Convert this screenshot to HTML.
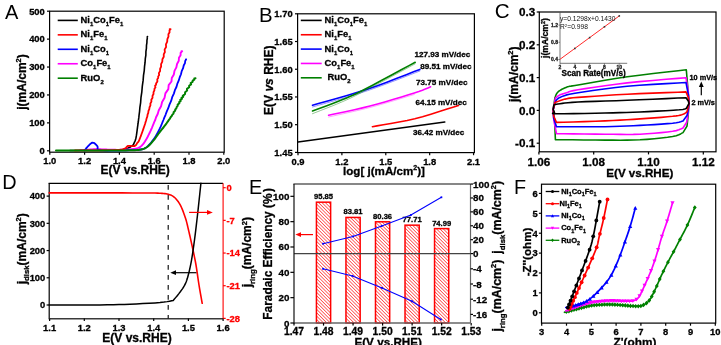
<!DOCTYPE html>
<html><head><meta charset="utf-8"><style>
html,body{margin:0;padding:0;background:#fff;overflow:hidden;}
svg{display:block;font-family:"Liberation Sans", sans-serif;-webkit-font-smoothing:antialiased;will-change:transform;}
</style></head><body>
<svg width="721" height="345" viewBox="0 0 721 345">
<rect width="721" height="345" fill="#fff"/>
<rect x="49.6" y="11.2" width="174.6" height="141" fill="none" stroke="#000" stroke-width="1.2"/>
<line x1="47" y1="150.8" x2="49.6" y2="150.8" stroke="#000" stroke-width="1.2" />
<text x="44.8" y="154.1" font-size="9.4" text-anchor="end" font-weight="bold" fill="#000" stroke="#000" stroke-width="0.3" >0</text>
<line x1="47" y1="122.88" x2="49.6" y2="122.88" stroke="#000" stroke-width="1.2" />
<text x="44.8" y="126.18" font-size="9.4" text-anchor="end" font-weight="bold" fill="#000" stroke="#000" stroke-width="0.3" >100</text>
<line x1="47" y1="94.96" x2="49.6" y2="94.96" stroke="#000" stroke-width="1.2" />
<text x="44.8" y="98.26" font-size="9.4" text-anchor="end" font-weight="bold" fill="#000" stroke="#000" stroke-width="0.3" >200</text>
<line x1="47" y1="67.04" x2="49.6" y2="67.04" stroke="#000" stroke-width="1.2" />
<text x="44.8" y="70.34" font-size="9.4" text-anchor="end" font-weight="bold" fill="#000" stroke="#000" stroke-width="0.3" >300</text>
<line x1="47" y1="39.12" x2="49.6" y2="39.12" stroke="#000" stroke-width="1.2" />
<text x="44.8" y="42.42" font-size="9.4" text-anchor="end" font-weight="bold" fill="#000" stroke="#000" stroke-width="0.3" >400</text>
<line x1="47" y1="11.2" x2="49.6" y2="11.2" stroke="#000" stroke-width="1.2" />
<text x="44.8" y="14.5" font-size="9.4" text-anchor="end" font-weight="bold" fill="#000" stroke="#000" stroke-width="0.3" >500</text>
<line x1="49.8" y1="152.2" x2="49.8" y2="154.8" stroke="#000" stroke-width="1.2" />
<text x="49.8" y="164" font-size="9.4" text-anchor="middle" font-weight="bold" fill="#000" stroke="#000" stroke-width="0.3" >1.0</text>
<line x1="84.6" y1="152.2" x2="84.6" y2="154.8" stroke="#000" stroke-width="1.2" />
<text x="84.6" y="164" font-size="9.4" text-anchor="middle" font-weight="bold" fill="#000" stroke="#000" stroke-width="0.3" >1.2</text>
<line x1="119.4" y1="152.2" x2="119.4" y2="154.8" stroke="#000" stroke-width="1.2" />
<text x="119.4" y="164" font-size="9.4" text-anchor="middle" font-weight="bold" fill="#000" stroke="#000" stroke-width="0.3" >1.4</text>
<line x1="154.2" y1="152.2" x2="154.2" y2="154.8" stroke="#000" stroke-width="1.2" />
<text x="154.2" y="164" font-size="9.4" text-anchor="middle" font-weight="bold" fill="#000" stroke="#000" stroke-width="0.3" >1.6</text>
<line x1="189" y1="152.2" x2="189" y2="154.8" stroke="#000" stroke-width="1.2" />
<text x="189" y="164" font-size="9.4" text-anchor="middle" font-weight="bold" fill="#000" stroke="#000" stroke-width="0.3" >1.8</text>
<line x1="223.8" y1="152.2" x2="223.8" y2="154.8" stroke="#000" stroke-width="1.2" />
<text x="223.8" y="164" font-size="9.4" text-anchor="middle" font-weight="bold" fill="#000" stroke="#000" stroke-width="0.3" >2.0</text>
<text x="135.2" y="173.9" font-size="12" text-anchor="middle" font-weight="bold" fill="#000" stroke="#000" stroke-width="0.3" >E(V vs.RHE)</text>
<text x="25.9" y="82" font-size="12" text-anchor="middle" font-weight="bold" fill="#000" stroke="#000" stroke-width="0.3" transform="rotate(-90 25.9 82)" ><tspan>j(mA/cm</tspan><tspan dy="-4.5" font-size="7.5">2</tspan><tspan dy="4.5">)</tspan></text>
<text x="4.9" y="18.9" font-size="20" text-anchor="start" font-weight="normal" fill="#000" >A</text>
<line x1="57.7" y1="20.4" x2="77.8" y2="20.4" stroke="#000000" stroke-width="1.6" />
<text x="80.6" y="23" font-size="9.4" text-anchor="start" font-weight="bold" fill="#000" stroke="#000" stroke-width="0.3" ><tspan>Ni</tspan><tspan dy="3" font-size="5.9">1</tspan><tspan dy="-3">Co</tspan><tspan dy="3" font-size="5.9">1</tspan><tspan dy="-3">Fe</tspan><tspan dy="3" font-size="5.9">1</tspan></text>
<line x1="57.7" y1="34.85" x2="77.8" y2="34.85" stroke="#ff0000" stroke-width="1.6" />
<text x="80.6" y="37.45" font-size="9.4" text-anchor="start" font-weight="bold" fill="#000" stroke="#000" stroke-width="0.3" ><tspan>Ni</tspan><tspan dy="3" font-size="5.9">1</tspan><tspan dy="-3">Fe</tspan><tspan dy="3" font-size="5.9">1</tspan></text>
<line x1="57.7" y1="49.3" x2="77.8" y2="49.3" stroke="#0000ff" stroke-width="1.6" />
<text x="80.6" y="51.9" font-size="9.4" text-anchor="start" font-weight="bold" fill="#000" stroke="#000" stroke-width="0.3" ><tspan>Ni</tspan><tspan dy="3" font-size="5.9">1</tspan><tspan dy="-3">Co</tspan><tspan dy="3" font-size="5.9">1</tspan></text>
<line x1="57.7" y1="63.75" x2="77.8" y2="63.75" stroke="#ff00ff" stroke-width="1.6" />
<text x="80.6" y="66.35" font-size="9.4" text-anchor="start" font-weight="bold" fill="#000" stroke="#000" stroke-width="0.3" ><tspan>Co</tspan><tspan dy="3" font-size="5.9">1</tspan><tspan dy="-3">Fe</tspan><tspan dy="3" font-size="5.9">1</tspan></text>
<line x1="57.7" y1="78.2" x2="77.8" y2="78.2" stroke="#008000" stroke-width="1.6" />
<text x="80.6" y="80.8" font-size="9.4" text-anchor="start" font-weight="bold" fill="#000" stroke="#000" stroke-width="0.3" ><tspan>RuO</tspan><tspan dy="3" font-size="5.9">2</tspan></text>
<polyline points="70,150.5 72.83,150.49 76.65,150.48 81.24,150.47 86.36,150.46 91.77,150.45 97.24,150.43 102.54,150.39 107.42,150.35 111.65,150.28 115,150.2 117.54,150.1 119.54,149.99 121.1,149.88 122.29,149.74 123.94,149.44 125.15,149.06 126.6,148.6 128.3,147.99 129.8,147.25 131.09,146.46 132.16,145.72 133.31,144.87 133.74,143.94 134.23,142.69 134.85,141.42 135.29,140.34 135.71,138.99 136.08,137.3 136.44,135.19 136.61,134.02 136.78,132.8 136.95,131.55 137.11,130.28 137.28,129.02 137.44,127.79 137.6,126.6 137.85,124.87 138.03,123.74 138.21,122.31 138.38,121.21 138.53,119.69 138.82,117.66 139.08,115 139.54,111.55 139.9,107.33 140.63,102.52 141.01,97.28 141.83,91.78 142.31,86.19 143.09,80.68 143.51,75.42 144.25,70.57 144.55,66.3 145.07,62.43 145.3,58.67 145.87,55.06 145.92,51.63 146.41,48.41 146.48,45.43 146.91,42.73 146.95,40.34 147.3,38.28 147.35,36.6 147.54,36.6" fill="none" stroke="#000000" stroke-width="1.6" stroke-linejoin="round" stroke-linecap="round" />
<polyline points="80,150.3 82.12,150.13 83.56,150.01 85.16,149.87 86.88,149.73 88.64,149.59 90.4,149.46 92.08,149.35 93.63,149.26 95,149.2 96.18,149.17 98.21,149.19 100,149.26 101.79,149.37 103.82,149.46 105,149.5 106.29,149.54 107.67,149.58 109.1,149.64 110.6,149.69 112.13,149.74 113.7,149.79 115.28,149.82 116.86,149.84 118.44,149.83 120,149.8 121.6,149.75 123.29,149.68 125.03,149.6 126.78,149.51 128.53,149.4 130.23,149.27 131.85,149.13 133.36,148.97 134.72,148.8 135.9,148.6 137.71,148.18 138.96,147.73 140.28,146.88 141.12,146.14 142.11,145.21 143.09,144.13 144.02,142.89 144.93,141.54 145.84,140.07 146.77,138.5 147.7,136.77 148.63,134.93 149.55,133.01 150.46,131.07 151.28,129.25 151.83,128.03 152.31,126.88 153.01,125.15 153.54,123.85 154.19,122.16 155.22,120 156.06,117.26 157.71,113.99 158.78,110.28 161.07,106.25 162.11,102.01 164.59,97.67 165.4,93.34 168.33,89.13 168.68,85.15 171.45,81.5 171.78,78 173.86,74.43 174.5,70.85 176.35,67.34 177.04,63.94 178.78,60.74 178.95,57.8 180.59,55.19 180.62,52.97 182.18,51.2 181.44,51.2" fill="none" stroke="#ff00ff" stroke-width="1.9" stroke-linejoin="round" stroke-linecap="round" />
<polyline points="84.5,150.6 85.25,149.61 85.95,148.68 86.74,147.68 87.58,146.73 88.43,145.87 89.35,144.91 90.32,143.95 91.33,143.15 92.32,142.67 93.77,142.86 94.77,143.53 95.75,144.44 96.67,145.42 97.5,146.3 97.69,147.61 97.47,148.98 98.23,149.76 100.5,150.3 102.46,150.46 105.01,150.55 108,150.59 111.3,150.58 114.78,150.54 118.3,150.48 121.71,150.4 124.89,150.32 127.7,150.25 130,150.2 131.84,150.16 133.39,150.12 134.69,150.08 135.79,150.03 137.55,149.91 139,149.74 140.5,149.5 141.94,149.26 143.11,149.02 144.63,148.47 145.7,147.84 146.95,146.88 148.32,145.62 149.75,144.13 151.18,142.49 151.87,141.63 153.2,139.9 154.45,138.09 155.06,137.14 155.67,136.16 156.26,135.16 156.83,134.15 157.4,133.13 157.95,132.12 158.48,131.1 159,130.1 159.83,128.47 160.45,127.18 161.1,125.7 162.01,123.49 162.61,121.94 163.42,120 164.32,117.6 165.55,114.78 166.71,111.61 168.24,108.19 169.47,104.59 171.13,100.91 172.19,97.22 173.87,93.62 174.89,90.18 176.44,87 177.27,83.9 178.68,80.69 179.67,77.45 180.98,74.25 181.71,71.14 183.08,68.19 183.7,65.48 184.97,63.07 185.2,61.02 186.14,59.4 185.86,59.4" fill="none" stroke="#0000ff" stroke-width="1.8" stroke-linejoin="round" stroke-linecap="round" />
<polyline points="75,150.5 77.52,150.47 80.92,150.45 85.01,150.42 89.57,150.38 94.39,150.34 99.25,150.29 103.96,150.23 108.29,150.17 112.04,150.09 115,150 117.23,149.9 119,149.8 120.38,149.68 122.22,149.43 123.32,149.14 124.8,148.6 126.05,147.83 126.75,146.63 127.7,146 128.91,145.88 130.42,145.97 132.02,146.11 133.52,146.16 134.7,146 135.82,145.27 136.51,144.21 137.08,143.12 137.82,142.33 138.67,141.33 139.3,139.9 139.73,138.83 140.23,137.54 140.78,136.08 141.38,134.48 142.01,132.76 142.65,130.97 143.29,129.13 143.92,127.29 144.53,125.46 145.11,123.7 145.6,121.95 146.2,120.17 146.6,118.36 147.32,116.53 147.55,114.68 148.27,112.81 148.48,110.95 149.3,109.09 149.54,107.24 150.44,105.4 150.37,103.55 151.42,101.66 151.32,99.74 152.54,97.82 152.49,95.92 153.5,94.04 153.51,92.22 154.38,90.45 154.46,88.78 155.49,87.2 155.01,85.79 156.09,84.55 156.07,83.44 157.4,81.4 157.24,79.26 158.24,78.04 158.12,76.63 159.16,75 158.85,73.14 160.12,71.09 160.07,68.89 161.11,66.57 161.06,64.17 162.29,61.71 162.41,59.23 163.78,56.77 163.73,54.34 164.91,52 164.61,49.6 166.09,47.05 165.94,44.4 167.2,41.73 167.35,39.11 168.47,36.61 168.39,34.28 169.59,32.21 169.46,30.46 170.6,29.1 169.65,29.1" fill="none" stroke="#ff0000" stroke-width="1.8" stroke-linejoin="round" stroke-linecap="round" />
<polyline points="56,150.6 58.68,150.6 62.21,150.6 66.41,150.61 71.1,150.61 76.12,150.62 81.3,150.62 86.44,150.62 91.39,150.62 95.97,150.61 100,150.6 103.65,150.58 107.21,150.57 110.64,150.54 113.94,150.52 117.09,150.49 120.08,150.46 122.87,150.43 125.47,150.39 127.85,150.35 130,150.3 131.86,150.26 133.4,150.22 134.69,150.19 136.69,150.11 138.22,149.98 139.68,149.76 141.34,149.42 142.88,149.04 144.26,148.58 145.55,148 146.84,147.25 148.17,146.28 149.51,145.06 150.82,143.66 152.09,142.18 153.32,140.71 154.46,139.31 155.5,137.92 156.49,136.53 157.46,135.13 158.47,133.71 159.55,132.29 160.68,130.88 161.84,129.46 163.02,128 164.2,126.49 165.41,124.87 166.72,123.09 167.29,122.17 168.08,121.24 168.55,120.32 169.93,118.56 170.78,117 171.82,115.79 172.2,114.87 173.52,113.5 173.61,112.29 175.21,110.57 175.24,109.52 176.36,108.37 176.61,107.15 177.71,105.88 177.68,104.6 179.36,103.32 179.17,102.08 180.72,100.9 180.23,99.8 181.96,98.77 181.46,97.77 183.25,96.81 182.79,95.86 185.03,94.04 185.13,92.3 187.11,90.6 186.94,88.93 189.2,87.31 189.08,85.76 191.13,84.32 190.6,83 192.62,81.78 192.68,80.65 194.28,79.64 194.3,78.47 195.52,78.2" fill="none" stroke="#008000" stroke-width="2.0" stroke-linejoin="round" stroke-linecap="round" />
<rect x="297.6" y="13.8" width="176.8" height="138.8" fill="none" stroke="#000" stroke-width="1.2"/>
<line x1="295" y1="152.4" x2="297.6" y2="152.4" stroke="#000" stroke-width="1.2" />
<text x="292.6" y="155.7" font-size="9.4" text-anchor="end" font-weight="bold" fill="#000" stroke="#000" stroke-width="0.3" >1.45</text>
<line x1="295" y1="124.68" x2="297.6" y2="124.68" stroke="#000" stroke-width="1.2" />
<text x="292.6" y="127.98" font-size="9.4" text-anchor="end" font-weight="bold" fill="#000" stroke="#000" stroke-width="0.3" >1.50</text>
<line x1="295" y1="96.96" x2="297.6" y2="96.96" stroke="#000" stroke-width="1.2" />
<text x="292.6" y="100.26" font-size="9.4" text-anchor="end" font-weight="bold" fill="#000" stroke="#000" stroke-width="0.3" >1.55</text>
<line x1="295" y1="69.24" x2="297.6" y2="69.24" stroke="#000" stroke-width="1.2" />
<text x="292.6" y="72.54" font-size="9.4" text-anchor="end" font-weight="bold" fill="#000" stroke="#000" stroke-width="0.3" >1.60</text>
<line x1="295" y1="41.52" x2="297.6" y2="41.52" stroke="#000" stroke-width="1.2" />
<text x="292.6" y="44.82" font-size="9.4" text-anchor="end" font-weight="bold" fill="#000" stroke="#000" stroke-width="0.3" >1.65</text>
<line x1="295" y1="13.8" x2="297.6" y2="13.8" stroke="#000" stroke-width="1.2" />
<text x="292.6" y="17.1" font-size="9.4" text-anchor="end" font-weight="bold" fill="#000" stroke="#000" stroke-width="0.3" >1.70</text>
<line x1="298" y1="152.6" x2="298" y2="155.2" stroke="#000" stroke-width="1.2" />
<text x="298" y="165.3" font-size="9.4" text-anchor="middle" font-weight="bold" fill="#000" stroke="#000" stroke-width="0.3" >0.9</text>
<line x1="341.89" y1="152.6" x2="341.89" y2="155.2" stroke="#000" stroke-width="1.2" />
<text x="341.89" y="165.3" font-size="9.4" text-anchor="middle" font-weight="bold" fill="#000" stroke="#000" stroke-width="0.3" >1.2</text>
<line x1="385.78" y1="152.6" x2="385.78" y2="155.2" stroke="#000" stroke-width="1.2" />
<text x="385.78" y="165.3" font-size="9.4" text-anchor="middle" font-weight="bold" fill="#000" stroke="#000" stroke-width="0.3" >1.5</text>
<line x1="429.67" y1="152.6" x2="429.67" y2="155.2" stroke="#000" stroke-width="1.2" />
<text x="429.67" y="165.3" font-size="9.4" text-anchor="middle" font-weight="bold" fill="#000" stroke="#000" stroke-width="0.3" >1.8</text>
<line x1="473.56" y1="152.6" x2="473.56" y2="155.2" stroke="#000" stroke-width="1.2" />
<text x="473.56" y="165.3" font-size="9.4" text-anchor="middle" font-weight="bold" fill="#000" stroke="#000" stroke-width="0.3" >2.1</text>
<text x="384" y="174.5" font-size="11.6" text-anchor="middle" font-weight="bold" fill="#000" stroke="#000" stroke-width="0.3" ><tspan>log[ j(mA/cm</tspan><tspan dy="-4.3" font-size="7">2</tspan><tspan dy="4.3">)]</tspan></text>
<text x="273.2" y="80.2" font-size="12" text-anchor="middle" font-weight="bold" fill="#000" stroke="#000" stroke-width="0.3" transform="rotate(-90 273.2 80.2)" ><tspan>E(V </tspan><tspan font-style="italic">vs</tspan><tspan> RHE)</tspan></text>
<text x="259" y="22.4" font-size="20.4" text-anchor="start" font-weight="normal" fill="#000" >B</text>
<line x1="300.8" y1="20.4" x2="321.7" y2="20.4" stroke="#000000" stroke-width="1.6" />
<text x="324.6" y="23" font-size="9.4" text-anchor="start" font-weight="bold" fill="#000" stroke="#000" stroke-width="0.3" ><tspan>Ni</tspan><tspan dy="3" font-size="5.9">1</tspan><tspan dy="-3">Co</tspan><tspan dy="3" font-size="5.9">1</tspan><tspan dy="-3">Fe</tspan><tspan dy="3" font-size="5.9">1</tspan></text>
<line x1="300.8" y1="34.75" x2="321.7" y2="34.75" stroke="#ff0000" stroke-width="1.6" />
<text x="324.6" y="37.35" font-size="9.4" text-anchor="start" font-weight="bold" fill="#000" stroke="#000" stroke-width="0.3" ><tspan>Ni</tspan><tspan dy="3" font-size="5.9">1</tspan><tspan dy="-3">Fe</tspan><tspan dy="3" font-size="5.9">1</tspan></text>
<line x1="300.8" y1="49.1" x2="321.7" y2="49.1" stroke="#0000ff" stroke-width="1.6" />
<text x="324.6" y="51.7" font-size="9.4" text-anchor="start" font-weight="bold" fill="#000" stroke="#000" stroke-width="0.3" ><tspan>Ni</tspan><tspan dy="3" font-size="5.9">1</tspan><tspan dy="-3">Co</tspan><tspan dy="3" font-size="5.9">1</tspan></text>
<line x1="300.8" y1="63.45" x2="321.7" y2="63.45" stroke="#ff00ff" stroke-width="1.6" />
<text x="324.6" y="66.05" font-size="9.4" text-anchor="start" font-weight="bold" fill="#000" stroke="#000" stroke-width="0.3" ><tspan>Co</tspan><tspan dy="3" font-size="5.9">1</tspan><tspan dy="-3">Fe</tspan><tspan dy="3" font-size="5.9">1</tspan></text>
<line x1="300.8" y1="77.8" x2="321.7" y2="77.8" stroke="#008000" stroke-width="1.6" />
<text x="327.4" y="80.4" font-size="9.4" text-anchor="start" font-weight="bold" fill="#000" stroke="#000" stroke-width="0.3" ><tspan>RuO</tspan><tspan dy="3" font-size="5.9">2</tspan></text>
<polyline points="298,141.9 444.8,122" fill="none" stroke="#000000" stroke-width="1.5" stroke-linejoin="round" stroke-linecap="round" />
<polyline points="372.4,126.7 377,125.89 383.34,124.82 390.87,123.52 399,122.05 407.17,120.43 414.8,118.7 422.51,116.65 430.89,114.2 439.3,111.6 447.12,109.11 453.73,107 458.5,105.5" fill="none" stroke="#ff0000" stroke-width="1.6" stroke-linejoin="round" stroke-linecap="round" />
<polyline points="328.6,115.3 333.07,114.33 339.23,113.03 346.53,111.46 354.45,109.72 362.45,107.87 370,106 377.54,103.97 385.59,101.69 393.72,99.31 401.5,96.97 408.5,94.82 414.3,93 418.83,91.5 422.41,90.2 425.22,89.09 427.41,88.16 429.15,87.4 430.6,86.8" fill="none" stroke="#ff00ff" stroke-width="1.6" stroke-linejoin="round" stroke-linecap="round" />
<polyline points="328.6,117 333.07,116.01 339.23,114.67 346.53,113.06 354.45,111.28 362.45,109.4 370,107.5 377.73,105.39 386.19,102.94 394.74,100.41 402.71,98 409.45,95.95 414.3,94.5" fill="none" stroke="#ff00ff" stroke-width="0.6" stroke-linejoin="round" stroke-linecap="round" opacity="0.6"/>
<polyline points="312.5,105.2 318.47,103.5 326.76,101.19 336.56,98.44 347.09,95.41 357.57,92.27 367.2,89.2 376.71,85.89 386.87,82.15 396.97,78.3 406.31,74.67 414.19,71.6 419.9,69.4" fill="none" stroke="#0000ff" stroke-width="1.6" stroke-linejoin="round" stroke-linecap="round" />
<polyline points="312.5,107 318.47,105.28 326.76,102.93 336.56,100.14 347.09,97.07 357.57,93.9 367.2,90.8 376.71,87.48 386.87,83.73 396.97,79.89 406.31,76.27 414.19,73.2 419.9,71" fill="none" stroke="#0000ff" stroke-width="0.7" stroke-linejoin="round" stroke-linecap="round" opacity="0.6"/>
<polyline points="312.5,110.9 315.87,109.66 320.61,107.94 326.19,105.91 332.08,103.73 337.76,101.57 342.7,99.6 346.59,97.98 349.79,96.61 352.77,95.26 356.03,93.7 360.04,91.69 365.3,89 372.61,85.17 381.76,80.3 391.66,74.99 401.25,69.82 409.46,65.39 415.2,62.3" fill="none" stroke="#008000" stroke-width="1.6" stroke-linejoin="round" stroke-linecap="round" />
<polyline points="312.5,113.7 315.87,112.37 320.61,110.52 326.19,108.34 332.08,106 337.76,103.69 342.7,101.6 346.59,99.89 349.79,98.44 352.77,97.02 356.03,95.4 360.04,93.33 365.3,90.6 372.61,86.74 381.76,81.84 391.66,76.51 401.25,71.33 409.46,66.9 415.2,63.8" fill="none" stroke="#008000" stroke-width="0.7" stroke-linejoin="round" stroke-linecap="round" opacity="0.6"/>
<text x="414.5" y="57.4" font-size="8.1" text-anchor="start" font-weight="bold" fill="#000" stroke="#000" stroke-width="0.3" >127.93 mV/dec</text>
<text x="420.2" y="68.6" font-size="8.1" text-anchor="start" font-weight="bold" fill="#000" stroke="#000" stroke-width="0.3" >89.51 mV/dec</text>
<text x="416.1" y="84.5" font-size="8.1" text-anchor="start" font-weight="bold" fill="#000" stroke="#000" stroke-width="0.3" >73.75 mV/dec</text>
<text x="415.4" y="104.5" font-size="8.1" text-anchor="start" font-weight="bold" fill="#000" stroke="#000" stroke-width="0.3" >64.15 mV/dec</text>
<text x="413" y="135.3" font-size="8.1" text-anchor="start" font-weight="bold" fill="#000" stroke="#000" stroke-width="0.3" >36.42 mV/dec</text>
<rect x="539.3" y="12" width="176.7" height="139.8" fill="none" stroke="#000" stroke-width="1.2"/>
<line x1="536.7" y1="143.2" x2="539.3" y2="143.2" stroke="#000" stroke-width="1.2" />
<text x="535.2" y="147.3" font-size="11.7" text-anchor="end" font-weight="bold" fill="#000" stroke="#000" stroke-width="0.3" >-0.1</text>
<line x1="536.7" y1="110.4" x2="539.3" y2="110.4" stroke="#000" stroke-width="1.2" />
<text x="535.2" y="114.5" font-size="11.7" text-anchor="end" font-weight="bold" fill="#000" stroke="#000" stroke-width="0.3" >0.0</text>
<line x1="536.7" y1="77.6" x2="539.3" y2="77.6" stroke="#000" stroke-width="1.2" />
<text x="535.2" y="81.7" font-size="11.7" text-anchor="end" font-weight="bold" fill="#000" stroke="#000" stroke-width="0.3" >0.1</text>
<line x1="536.7" y1="44.8" x2="539.3" y2="44.8" stroke="#000" stroke-width="1.2" />
<text x="535.2" y="48.9" font-size="11.7" text-anchor="end" font-weight="bold" fill="#000" stroke="#000" stroke-width="0.3" >0.2</text>
<line x1="536.7" y1="12" x2="539.3" y2="12" stroke="#000" stroke-width="1.2" />
<text x="535.2" y="16.1" font-size="11.7" text-anchor="end" font-weight="bold" fill="#000" stroke="#000" stroke-width="0.3" >0.3</text>
<line x1="538.9" y1="151.8" x2="538.9" y2="154.4" stroke="#000" stroke-width="1.2" />
<text x="538.9" y="166.1" font-size="11.7" text-anchor="middle" font-weight="bold" fill="#000" stroke="#000" stroke-width="0.3" >1.06</text>
<line x1="593.7" y1="151.8" x2="593.7" y2="154.4" stroke="#000" stroke-width="1.2" />
<text x="593.7" y="166.1" font-size="11.7" text-anchor="middle" font-weight="bold" fill="#000" stroke="#000" stroke-width="0.3" >1.08</text>
<line x1="648.5" y1="151.8" x2="648.5" y2="154.4" stroke="#000" stroke-width="1.2" />
<text x="648.5" y="166.1" font-size="11.7" text-anchor="middle" font-weight="bold" fill="#000" stroke="#000" stroke-width="0.3" >1.10</text>
<line x1="703.3" y1="151.8" x2="703.3" y2="154.4" stroke="#000" stroke-width="1.2" />
<text x="703.3" y="166.1" font-size="11.7" text-anchor="middle" font-weight="bold" fill="#000" stroke="#000" stroke-width="0.3" >1.12</text>
<text x="639.8" y="177.3" font-size="11.6" text-anchor="middle" font-weight="bold" fill="#000" stroke="#000" stroke-width="0.3" >E(V vs.RHE)</text>
<text x="517.8" y="74.2" font-size="12" text-anchor="middle" font-weight="bold" fill="#000" stroke="#000" stroke-width="0.3" transform="rotate(-90 517.8 74.2)" ><tspan>j(mA/cm</tspan><tspan dy="-4.5" font-size="7.5">2</tspan><tspan dy="4.5">)</tspan></text>
<text x="494.8" y="18.2" font-size="20.6" text-anchor="start" font-weight="normal" fill="#000" >C</text>
<polyline points="553.2,109.5 555,97.4 555.28,96.74 555.64,95.8 556.1,94.71 556.66,93.63 557.3,92.7 558.03,91.93 558.86,91.22 559.78,90.56 560.79,89.93 561.9,89.3 563.16,88.66 564.57,88.01 566.05,87.39 567.52,86.84 568.9,86.4 569.44,86.22 569.19,86.27 569.28,86.33 570.84,86.15 575,85.5 582.38,84.23 592.23,82.5 603.61,80.53 615.58,78.56 627.2,76.8 639.52,75.18 653.18,73.54 666.58,72.01 678.15,70.72 686.3,69.8 687.6,85 689,103.5 688.2,115 687,126.1 683,132.6 681.94,133.14 680.65,133.91 678.86,134.8 676.27,135.7 672.6,136.5 667.54,137.25 661.27,138.01 654.28,138.72 647.03,139.34 640,139.8 633.39,140.06 626.87,140.17 620.17,140.18 612.97,140.14 605,140.1 595.22,140.04 583.83,139.93 572.37,139.8 562.38,139.68 555.4,139.6 554.6,120 553.2,109.5" fill="none" stroke="#008000" stroke-width="1.6" stroke-linejoin="round" stroke-linecap="round" />
<polyline points="553.2,109.5 555.5,98 556.01,97.6 556.71,97.02 557.56,96.36 558.54,95.69 559.6,95.1 560.73,94.6 561.94,94.13 563.27,93.67 564.78,93.2 566.5,92.7 567.9,92.22 568.96,91.77 570.46,91.27 573.21,90.64 578,89.8 585.27,88.65 594.5,87.25 605.02,85.73 616.14,84.24 627.2,82.9 639.29,81.67 652.85,80.45 666.25,79.32 677.85,78.38 686,77.7 688.3,92 689,103.5 688,114 686.7,122.2 683,128 681.94,128.46 680.65,129.1 678.86,129.85 676.27,130.61 672.6,131.3 667.54,131.95 661.27,132.63 654.28,133.27 647.03,133.81 640,134.2 633.37,134.39 626.82,134.43 620.09,134.38 612.9,134.28 605,134.2 595.39,134.12 584.24,134.01 573.06,133.89 563.31,133.78 556.5,133.7 553.8,120 553.2,109.5" fill="none" stroke="#ff00ff" stroke-width="1.6" stroke-linejoin="round" stroke-linecap="round" />
<polyline points="553.2,109.5 555.5,101.4 555.94,100.86 556.47,100.09 557.23,99.2 558.36,98.27 560,97.4 561.73,96.63 563.46,95.91 565.82,95.15 569.45,94.31 575,93.3 582.95,92.03 592.88,90.56 604.06,89.01 615.74,87.54 627.2,86.3 639.48,85.27 653.07,84.37 666.4,83.59 677.9,82.97 686,82.5 688.4,95 689,103.5 688,111 687,115.6 683,120.9 681.94,121.21 680.65,121.66 678.86,122.18 676.27,122.71 672.6,123.2 667.54,123.66 661.27,124.13 654.28,124.59 647.03,125.02 640,125.4 633.37,125.74 626.82,126.05 620.09,126.32 612.9,126.54 605,126.7 595.39,126.78 584.24,126.79 573.06,126.76 563.31,126.72 556.5,126.7 553.6,118 553.2,109.5" fill="none" stroke="#0000ff" stroke-width="1.6" stroke-linejoin="round" stroke-linecap="round" />
<polyline points="553.2,109.5 555,102.6 556.31,102.1 558.14,101.37 560.3,100.54 562.65,99.74 565,99.1 566.83,98.67 568.25,98.36 570.05,98.1 573.04,97.81 578,97.4 585.37,96.84 594.61,96.18 605.09,95.49 616.17,94.81 627.2,94.2 639.29,93.65 652.85,93.1 666.25,92.61 677.85,92.2 686,91.9 688.5,98 689,103.5 687,111.7 686.56,112.06 686,112.58 685.25,113.18 684.27,113.78 683,114.3 681.68,114.73 680.37,115.11 678.67,115.49 676.2,115.87 672.6,116.3 667.54,116.79 661.27,117.33 654.28,117.87 647.03,118.41 640,118.9 633.37,119.35 626.82,119.77 620.09,120.16 612.9,120.54 605,120.9 595.39,121.26 584.24,121.61 573.06,121.93 563.31,122.2 556.5,122.4 553.6,116 553.2,109.5" fill="none" stroke="#ff0000" stroke-width="1.6" stroke-linejoin="round" stroke-linecap="round" />
<polyline points="553.2,109.5 553.8,105 554.45,104.83 555.27,104.59 556.37,104.31 557.91,104.01 560,103.7 562.35,103.39 564.85,103.05 567.99,102.7 572.21,102.35 578,102 585.69,101.67 594.97,101.36 605.33,101.04 616.25,100.7 627.2,100.3 639.29,99.8 652.85,99.2 666.25,98.6 677.85,98.07 686,97.7 688.3,101 689,103.5 686.3,108.3 685.86,108.49 685.55,108.76 684.76,109.08 682.88,109.43 679.3,109.8 673.44,110.21 665.7,110.69 656.96,111.17 648.1,111.63 640,112 632.93,112.28 626.31,112.5 619.73,112.67 612.76,112.83 605,113 595.5,113.21 584.55,113.44 573.55,113.64 563.9,113.78 557,113.8 553.55,113.65 552.6,113.37 553.14,113.03 554.11,112.71 554.5,112.5 553.2,109.5" fill="none" stroke="#000000" stroke-width="1.6" stroke-linejoin="round" stroke-linecap="round" />
<text x="689.5" y="79.9" font-size="7.3" text-anchor="start" font-weight="bold" fill="#000" stroke="#000" stroke-width="0.3" >10 mV/s</text>
<text x="691.4" y="105.2" font-size="7.3" text-anchor="start" font-weight="bold" fill="#000" stroke="#000" stroke-width="0.3" >2 mV/s</text>
<line x1="701.3" y1="95.2" x2="701.3" y2="86" stroke="#000" stroke-width="1.2" />
<polygon points="698.9,87 703.7,87 701.3,81.6" fill="#000"/>
<line x1="560" y1="12" x2="560" y2="63.3" stroke="#555" stroke-width="0.8" />
<line x1="560" y1="63.3" x2="627.2" y2="63.3" stroke="#555" stroke-width="0.8" />
<line x1="558.5" y1="59.5" x2="560" y2="59.5" stroke="#555" stroke-width="0.7" />
<text x="558" y="61.3" font-size="5" text-anchor="end" font-weight="bold" fill="#222" stroke="#222" stroke-width="0.3" >0.4</text>
<line x1="558.5" y1="42.3" x2="560" y2="42.3" stroke="#555" stroke-width="0.7" />
<text x="558" y="44.1" font-size="5" text-anchor="end" font-weight="bold" fill="#222" stroke="#222" stroke-width="0.3" >0.8</text>
<line x1="558.5" y1="25.1" x2="560" y2="25.1" stroke="#555" stroke-width="0.7" />
<text x="558" y="26.9" font-size="5" text-anchor="end" font-weight="bold" fill="#222" stroke="#222" stroke-width="0.3" >1.2</text>
<line x1="560" y1="63.3" x2="560" y2="64.8" stroke="#555" stroke-width="0.7" />
<text x="560" y="69.2" font-size="5" text-anchor="middle" font-weight="bold" fill="#222" stroke="#222" stroke-width="0.3" >2</text>
<line x1="574.82" y1="63.3" x2="574.82" y2="64.8" stroke="#555" stroke-width="0.7" />
<text x="574.82" y="69.2" font-size="5" text-anchor="middle" font-weight="bold" fill="#222" stroke="#222" stroke-width="0.3" >4</text>
<line x1="589.64" y1="63.3" x2="589.64" y2="64.8" stroke="#555" stroke-width="0.7" />
<text x="589.64" y="69.2" font-size="5" text-anchor="middle" font-weight="bold" fill="#222" stroke="#222" stroke-width="0.3" >6</text>
<line x1="604.46" y1="63.3" x2="604.46" y2="64.8" stroke="#555" stroke-width="0.7" />
<text x="604.46" y="69.2" font-size="5" text-anchor="middle" font-weight="bold" fill="#222" stroke="#222" stroke-width="0.3" >8</text>
<line x1="619.28" y1="63.3" x2="619.28" y2="64.8" stroke="#555" stroke-width="0.7" />
<text x="619.28" y="69.2" font-size="5" text-anchor="middle" font-weight="bold" fill="#222" stroke="#222" stroke-width="0.3" >10</text>
<line x1="560" y1="59.3" x2="619.3" y2="15.9" stroke="#ff2a2a" stroke-width="1.0" />
<rect x="574.02" y="47.65" width="1.6" height="1.6" fill="#333"/>
<rect x="588.84" y="36.81" width="1.6" height="1.6" fill="#333"/>
<rect x="603.66" y="25.96" width="1.6" height="1.6" fill="#333"/>
<rect x="618.48" y="15.11" width="1.6" height="1.6" fill="#333"/>
<text x="560" y="21.2" font-size="6.7" text-anchor="start" font-weight="normal" fill="#111" >y=0.1298x+0.1430</text>
<text x="560" y="29.4" font-size="6.7" text-anchor="start" font-weight="normal" fill="#111" ><tspan>R</tspan><tspan dy="-2.6" font-size="4.3">2</tspan><tspan dy="2.6">=0.998</tspan></text>
<text x="561.5" y="75.7" font-size="8.15" text-anchor="start" font-weight="bold" fill="#000" stroke="#000" stroke-width="0.3" >Scan Rate(mV/s)</text>
<text x="547.8" y="38" font-size="8.6" text-anchor="middle" font-weight="bold" fill="#000" stroke="#000" stroke-width="0.3" transform="rotate(-90 547.8 38)" ><tspan>j(mA/cm</tspan><tspan dy="-3.2" font-size="5.4">2</tspan><tspan dy="3.2">)</tspan></text>
<line x1="48.6" y1="183.3" x2="223.1" y2="183.3" stroke="#000" stroke-width="1.2" />
<line x1="49.2" y1="183.3" x2="49.2" y2="318.5" stroke="#000" stroke-width="1.2" />
<line x1="48.6" y1="318.7" x2="223.1" y2="318.7" stroke="#3a3a3a" stroke-width="1.6" />
<line x1="223.1" y1="183.3" x2="223.1" y2="318.5" stroke="#ff0000" stroke-width="1.1" />
<line x1="46.6" y1="305" x2="49.2" y2="305" stroke="#000" stroke-width="1.2" />
<text x="45.3" y="308.3" font-size="9.4" text-anchor="end" font-weight="bold" fill="#000" stroke="#000" stroke-width="0.3" >0</text>
<line x1="46.6" y1="277.78" x2="49.2" y2="277.78" stroke="#000" stroke-width="1.2" />
<text x="45.3" y="281.08" font-size="9.4" text-anchor="end" font-weight="bold" fill="#000" stroke="#000" stroke-width="0.3" >100</text>
<line x1="46.6" y1="250.56" x2="49.2" y2="250.56" stroke="#000" stroke-width="1.2" />
<text x="45.3" y="253.86" font-size="9.4" text-anchor="end" font-weight="bold" fill="#000" stroke="#000" stroke-width="0.3" >200</text>
<line x1="46.6" y1="223.34" x2="49.2" y2="223.34" stroke="#000" stroke-width="1.2" />
<text x="45.3" y="226.64" font-size="9.4" text-anchor="end" font-weight="bold" fill="#000" stroke="#000" stroke-width="0.3" >300</text>
<line x1="46.6" y1="196.12" x2="49.2" y2="196.12" stroke="#000" stroke-width="1.2" />
<text x="45.3" y="199.42" font-size="9.4" text-anchor="end" font-weight="bold" fill="#000" stroke="#000" stroke-width="0.3" >400</text>
<line x1="223.1" y1="187.7" x2="225.7" y2="187.7" stroke="#ff0000" stroke-width="1.2" />
<text x="226.4" y="191" font-size="9.4" text-anchor="start" font-weight="bold" fill="#ff0000" stroke="#ff0000" stroke-width="0.3" >0</text>
<line x1="223.1" y1="220.37" x2="225.7" y2="220.37" stroke="#ff0000" stroke-width="1.2" />
<text x="226.4" y="223.67" font-size="9.4" text-anchor="start" font-weight="bold" fill="#ff0000" stroke="#ff0000" stroke-width="0.3" >-7</text>
<line x1="223.1" y1="253.04" x2="225.7" y2="253.04" stroke="#ff0000" stroke-width="1.2" />
<text x="226.4" y="256.34" font-size="9.4" text-anchor="start" font-weight="bold" fill="#ff0000" stroke="#ff0000" stroke-width="0.3" >-14</text>
<line x1="223.1" y1="285.71" x2="225.7" y2="285.71" stroke="#ff0000" stroke-width="1.2" />
<text x="226.4" y="289.01" font-size="9.4" text-anchor="start" font-weight="bold" fill="#ff0000" stroke="#ff0000" stroke-width="0.3" >-21</text>
<line x1="223.1" y1="318.38" x2="225.7" y2="318.38" stroke="#ff0000" stroke-width="1.2" />
<text x="226.4" y="321.68" font-size="9.4" text-anchor="start" font-weight="bold" fill="#ff0000" stroke="#ff0000" stroke-width="0.3" >-28</text>
<line x1="49.6" y1="318.5" x2="49.6" y2="321.1" stroke="#000" stroke-width="1.2" />
<text x="49.6" y="330.8" font-size="9.4" text-anchor="middle" font-weight="bold" fill="#000" stroke="#000" stroke-width="0.3" >1.1</text>
<line x1="84.3" y1="318.5" x2="84.3" y2="321.1" stroke="#000" stroke-width="1.2" />
<text x="84.3" y="330.8" font-size="9.4" text-anchor="middle" font-weight="bold" fill="#000" stroke="#000" stroke-width="0.3" >1.2</text>
<line x1="119" y1="318.5" x2="119" y2="321.1" stroke="#000" stroke-width="1.2" />
<text x="119" y="330.8" font-size="9.4" text-anchor="middle" font-weight="bold" fill="#000" stroke="#000" stroke-width="0.3" >1.3</text>
<line x1="153.7" y1="318.5" x2="153.7" y2="321.1" stroke="#000" stroke-width="1.2" />
<text x="153.7" y="330.8" font-size="9.4" text-anchor="middle" font-weight="bold" fill="#000" stroke="#000" stroke-width="0.3" >1.4</text>
<line x1="188.4" y1="318.5" x2="188.4" y2="321.1" stroke="#000" stroke-width="1.2" />
<text x="188.4" y="330.8" font-size="9.4" text-anchor="middle" font-weight="bold" fill="#000" stroke="#000" stroke-width="0.3" >1.5</text>
<line x1="223.1" y1="318.5" x2="223.1" y2="321.1" stroke="#000" stroke-width="1.2" />
<text x="223.1" y="330.8" font-size="9.4" text-anchor="middle" font-weight="bold" fill="#000" stroke="#000" stroke-width="0.3" >1.6</text>
<text x="137" y="342" font-size="12" text-anchor="middle" font-weight="bold" fill="#000" stroke="#000" stroke-width="0.3" >E(V vs.RHE)</text>
<text x="25.8" y="248.8" font-size="12" text-anchor="middle" font-weight="bold" fill="#000" stroke="#000" stroke-width="0.3" transform="rotate(-90 25.8 248.8)" ><tspan>j</tspan><tspan dy="3.6" font-size="7.8">disk</tspan><tspan dy="-3.6">(mA/cm</tspan><tspan dy="-4.5" font-size="7.5">2</tspan><tspan dy="4.5">)</tspan></text>
<text x="2.2" y="188.5" font-size="19.9" text-anchor="start" font-weight="normal" fill="#000" >D</text>
<line x1="168.2" y1="185.1" x2="168.2" y2="318.5" stroke="#000" stroke-width="1.1" stroke-dasharray="4.7,5.3"/>
<polyline points="49.2,192.9 56.12,192.9 65.9,192.9 77.3,192.89 89.08,192.89 100,192.9 110.66,192.91 121.88,192.92 132.77,192.93 142.44,192.96 150,193 154.92,193.05 157.81,193.11 159.43,193.19 160.57,193.28 162,193.4 163.63,193.51 164.94,193.62 166.07,193.76 167.14,193.98 168.3,194.3 169.53,194.68 170.75,195.1 171.97,195.63 173.18,196.34 174.4,197.3 175.64,198.51 176.89,199.93 178.13,201.56 179.34,203.38 180.5,205.4 181.62,207.73 182.72,210.38 183.77,213.17 184.74,215.93 185.6,218.5 186.31,220.84 186.9,223.08 187.42,225.24 187.9,227.37 188.4,229.5 188.91,231.62 189.39,233.71 189.86,235.79 190.33,237.88 190.8,240 191.27,242.12 191.74,244.22 192.21,246.36 192.69,248.6 193.2,251 193.73,253.51 194.28,256.1 194.85,258.82 195.42,261.77 196,265 196.58,268.64 197.18,272.65 197.78,276.83 198.38,281.01 199,285 199.68,289.06 200.42,293.32 201.14,297.38 201.76,300.84 202.2,303.3" fill="none" stroke="#ff0000" stroke-width="1.6" stroke-linejoin="round" stroke-linecap="round" />
<polyline points="49.2,305 56.44,305 66.86,305 78.74,304.99 90.36,304.96 100,304.9 107.33,304.81 113.5,304.71 119,304.58 124.33,304.41 130,304.2 136.27,303.93 142.81,303.61 149.21,303.25 155.08,302.88 160,302.5 163.93,302.09 167.12,301.63 169.68,301.17 171.67,300.78 173.2,300.5 174.2,299.31 175.62,297.62 177.26,295.65 178.89,293.64 180.3,291.8 181.48,290.16 182.58,288.57 183.61,286.99 184.55,285.38 185.4,283.7 186.13,282.01 186.75,280.34 187.29,278.59 187.83,276.68 188.4,274.5 189.02,272.08 189.64,269.47 190.26,266.66 190.88,263.61 191.5,260.3 192.11,256.71 192.71,252.84 193.3,248.75 193.9,244.46 194.5,240 195.09,235.41 195.68,230.66 196.27,225.71 196.87,220.5 197.5,215 198.21,208.58 198.99,201.28 199.77,194.02 200.43,187.72 200.9,183.3" fill="none" stroke="#000000" stroke-width="1.5" stroke-linejoin="round" stroke-linecap="round" />
<line x1="189.1" y1="212.4" x2="208" y2="212.4" stroke="#ff0000" stroke-width="1.2" />
<polygon points="207,210 207,214.8 212.8,212.4" fill="#ff0000"/>
<line x1="196.4" y1="272.7" x2="175" y2="272.7" stroke="#000" stroke-width="1.2" />
<polygon points="176,270.3 176,275.1 170.3,272.7" fill="#000"/>
<defs><pattern id="hat" patternUnits="userSpaceOnUse" width="2.4" height="2.4" patternTransform="rotate(-45)"><rect width="2.4" height="2.4" fill="#fff"/><rect x="0" y="0" width="0.75" height="2.4" fill="#ff4040"/></pattern></defs>
<rect x="316.43" y="202.18" width="14.2" height="120.82" fill="url(#hat)" stroke="#ff0000" stroke-width="1.5"/>
<text x="323.53" y="199.18" font-size="7.6" text-anchor="middle" font-weight="bold" fill="#000" stroke="#000" stroke-width="0.3" >95.85</text>
<rect x="345.96" y="217.43" width="14.2" height="105.57" fill="url(#hat)" stroke="#ff0000" stroke-width="1.5"/>
<text x="353.06" y="214.43" font-size="7.6" text-anchor="middle" font-weight="bold" fill="#000" stroke="#000" stroke-width="0.3" >83.81</text>
<rect x="375.49" y="221.8" width="14.2" height="101.2" fill="url(#hat)" stroke="#ff0000" stroke-width="1.5"/>
<text x="382.59" y="218.8" font-size="7.6" text-anchor="middle" font-weight="bold" fill="#000" stroke="#000" stroke-width="0.3" >80.36</text>
<rect x="405.02" y="225.16" width="14.2" height="97.84" fill="url(#hat)" stroke="#ff0000" stroke-width="1.5"/>
<text x="412.12" y="222.16" font-size="7.6" text-anchor="middle" font-weight="bold" fill="#000" stroke="#000" stroke-width="0.3" >77.71</text>
<rect x="434.55" y="228.6" width="14.2" height="94.4" fill="url(#hat)" stroke="#ff0000" stroke-width="1.5"/>
<text x="441.65" y="225.6" font-size="7.6" text-anchor="middle" font-weight="bold" fill="#000" stroke="#000" stroke-width="0.3" >74.99</text>
<line x1="294" y1="253.6" x2="470.5" y2="253.6" stroke="#444" stroke-width="1.3" />
<line x1="294" y1="323" x2="470.5" y2="323" stroke="#666" stroke-width="1.3" />
<line x1="470.5" y1="184" x2="470.5" y2="323" stroke="#666" stroke-width="1.2" />
<line x1="293.4" y1="184" x2="470.5" y2="184" stroke="#111" stroke-width="1.2" />
<line x1="294" y1="184" x2="294" y2="323.6" stroke="#111" stroke-width="1.2" />
<line x1="290.4" y1="323" x2="294" y2="323" stroke="#000" stroke-width="1.2" />
<text x="289.4" y="326.5" font-size="9.8" text-anchor="end" font-weight="bold" fill="#000" stroke="#000" stroke-width="0.3" >0</text>
<line x1="290.4" y1="297.66" x2="294" y2="297.66" stroke="#000" stroke-width="1.2" />
<text x="289.4" y="301.16" font-size="9.8" text-anchor="end" font-weight="bold" fill="#000" stroke="#000" stroke-width="0.3" >20</text>
<line x1="290.4" y1="272.33" x2="294" y2="272.33" stroke="#000" stroke-width="1.2" />
<text x="289.4" y="275.83" font-size="9.8" text-anchor="end" font-weight="bold" fill="#000" stroke="#000" stroke-width="0.3" >40</text>
<line x1="290.4" y1="246.99" x2="294" y2="246.99" stroke="#000" stroke-width="1.2" />
<text x="289.4" y="250.49" font-size="9.8" text-anchor="end" font-weight="bold" fill="#000" stroke="#000" stroke-width="0.3" >60</text>
<line x1="290.4" y1="221.66" x2="294" y2="221.66" stroke="#000" stroke-width="1.2" />
<text x="289.4" y="225.16" font-size="9.8" text-anchor="end" font-weight="bold" fill="#000" stroke="#000" stroke-width="0.3" >80</text>
<line x1="290.4" y1="196.32" x2="294" y2="196.32" stroke="#000" stroke-width="1.2" />
<text x="289.4" y="199.82" font-size="9.8" text-anchor="end" font-weight="bold" fill="#000" stroke="#000" stroke-width="0.3" >100</text>
<line x1="294" y1="323" x2="294" y2="325.6" stroke="#000" stroke-width="1.2" />
<text x="294" y="335" font-size="10.3" text-anchor="middle" font-weight="bold" fill="#000" stroke="#000" stroke-width="0.3" >1.47</text>
<line x1="323.53" y1="323" x2="323.53" y2="325.6" stroke="#000" stroke-width="1.2" />
<text x="323.53" y="335" font-size="10.3" text-anchor="middle" font-weight="bold" fill="#000" stroke="#000" stroke-width="0.3" >1.48</text>
<line x1="353.06" y1="323" x2="353.06" y2="325.6" stroke="#000" stroke-width="1.2" />
<text x="353.06" y="335" font-size="10.3" text-anchor="middle" font-weight="bold" fill="#000" stroke="#000" stroke-width="0.3" >1.49</text>
<line x1="382.59" y1="323" x2="382.59" y2="325.6" stroke="#000" stroke-width="1.2" />
<text x="382.59" y="335" font-size="10.3" text-anchor="middle" font-weight="bold" fill="#000" stroke="#000" stroke-width="0.3" >1.50</text>
<line x1="412.12" y1="323" x2="412.12" y2="325.6" stroke="#000" stroke-width="1.2" />
<text x="412.12" y="335" font-size="10.3" text-anchor="middle" font-weight="bold" fill="#000" stroke="#000" stroke-width="0.3" >1.51</text>
<line x1="441.65" y1="323" x2="441.65" y2="325.6" stroke="#000" stroke-width="1.2" />
<text x="441.65" y="335" font-size="10.3" text-anchor="middle" font-weight="bold" fill="#000" stroke="#000" stroke-width="0.3" >1.52</text>
<line x1="471.18" y1="323" x2="471.18" y2="325.6" stroke="#000" stroke-width="1.2" />
<text x="471.18" y="335" font-size="10.3" text-anchor="middle" font-weight="bold" fill="#000" stroke="#000" stroke-width="0.3" >1.53</text>
<line x1="470.5" y1="184.05" x2="473" y2="184.05" stroke="#000" stroke-width="1.2" />
<text x="473" y="187.55" font-size="9.8" text-anchor="start" font-weight="bold" fill="#000" stroke="#000" stroke-width="0.3" >100</text>
<line x1="470.5" y1="197.96" x2="473" y2="197.96" stroke="#000" stroke-width="1.2" />
<text x="473" y="201.46" font-size="9.8" text-anchor="start" font-weight="bold" fill="#000" stroke="#000" stroke-width="0.3" >80</text>
<line x1="470.5" y1="211.87" x2="473" y2="211.87" stroke="#000" stroke-width="1.2" />
<text x="473" y="215.37" font-size="9.8" text-anchor="start" font-weight="bold" fill="#000" stroke="#000" stroke-width="0.3" >60</text>
<line x1="470.5" y1="225.78" x2="473" y2="225.78" stroke="#000" stroke-width="1.2" />
<text x="473" y="229.28" font-size="9.8" text-anchor="start" font-weight="bold" fill="#000" stroke="#000" stroke-width="0.3" >40</text>
<line x1="470.5" y1="239.69" x2="473" y2="239.69" stroke="#000" stroke-width="1.2" />
<text x="473" y="243.19" font-size="9.8" text-anchor="start" font-weight="bold" fill="#000" stroke="#000" stroke-width="0.3" >20</text>
<line x1="470.5" y1="253.6" x2="473" y2="253.6" stroke="#000" stroke-width="1.2" />
<text x="473" y="257.1" font-size="9.8" text-anchor="start" font-weight="bold" fill="#000" stroke="#000" stroke-width="0.3" >0</text>
<line x1="470.5" y1="268.8" x2="473" y2="268.8" stroke="#000" stroke-width="1.2" />
<text x="473" y="272.3" font-size="9.8" text-anchor="start" font-weight="bold" fill="#000" stroke="#000" stroke-width="0.3" >-4</text>
<line x1="470.5" y1="284" x2="473" y2="284" stroke="#000" stroke-width="1.2" />
<text x="473" y="287.5" font-size="9.8" text-anchor="start" font-weight="bold" fill="#000" stroke="#000" stroke-width="0.3" >-8</text>
<line x1="470.5" y1="299.2" x2="473" y2="299.2" stroke="#000" stroke-width="1.2" />
<text x="473" y="302.7" font-size="9.8" text-anchor="start" font-weight="bold" fill="#000" stroke="#000" stroke-width="0.3" >-12</text>
<line x1="470.5" y1="314.4" x2="473" y2="314.4" stroke="#000" stroke-width="1.2" />
<text x="473" y="317.9" font-size="9.8" text-anchor="start" font-weight="bold" fill="#000" stroke="#000" stroke-width="0.3" >-16</text>
<text x="388.2" y="346" font-size="11.7" text-anchor="middle" font-weight="bold" fill="#000" stroke="#000" stroke-width="0.3" >E(V vs.RHE)</text>
<text x="271.9" y="253.8" font-size="11.9" text-anchor="middle" font-weight="bold" fill="#000" stroke="#000" stroke-width="0.3" transform="rotate(-90 271.9 253.8)" >Faradaic Efficiency (%<tspan dx="1.5">)</tspan></text>
<text x="251.2" y="252.2" font-size="12" text-anchor="middle" font-weight="bold" fill="#000" stroke="#000" stroke-width="0.3" transform="rotate(-90 251.2 252.2)" ><tspan>j</tspan><tspan dy="3.6" font-size="7.8">ring</tspan><tspan dy="-3.6">(mA/cm</tspan><tspan dy="-4.5" font-size="7.5">2</tspan><tspan dy="4.5">)</tspan></text>
<text x="501" y="295.6" font-size="12.4" text-anchor="middle" font-weight="bold" fill="#000" stroke="#000" stroke-width="0.3" transform="rotate(-90 501 295.6)" ><tspan>j</tspan><tspan dy="3.6" font-size="7.8">ring</tspan><tspan dy="-3.6">(mA/cm</tspan><tspan dy="-4.6" font-size="7.5">2</tspan><tspan dy="4.6">)</tspan></text>
<text x="501" y="217.3" font-size="12.4" text-anchor="middle" font-weight="bold" fill="#000" stroke="#000" stroke-width="0.3" transform="rotate(-90 501 217.3)" ><tspan>j</tspan><tspan dy="3.6" font-size="7.8">disk</tspan><tspan dy="-3.6">(mA/cm</tspan><tspan dy="-4.6" font-size="7.5">2</tspan><tspan dy="4.6">)</tspan></text>
<text x="248.9" y="193.6" font-size="19.8" text-anchor="start" font-weight="normal" fill="#000" >E</text>
<line x1="313" y1="234.6" x2="300" y2="234.6" stroke="#ff0000" stroke-width="1.2" />
<polygon points="301,232.2 301,237 295.4,234.6" fill="#ff0000"/>
<polyline points="323,243.7 353,236.4 381.7,226 410.9,215 441.4,197.3" fill="none" stroke="#0000ff" stroke-width="1.05" stroke-linejoin="round" stroke-linecap="round" />
<polyline points="323.1,268.8 352.5,275.9 382,287.9 412,301.3 440.8,319.5" fill="none" stroke="#0000ff" stroke-width="1.05" stroke-linejoin="round" stroke-linecap="round" />
<rect x="322.1" y="242.8" width="1.8" height="1.8" fill="#0000ff"/>
<rect x="352.1" y="235.5" width="1.8" height="1.8" fill="#0000ff"/>
<rect x="380.8" y="225.1" width="1.8" height="1.8" fill="#0000ff"/>
<rect x="410" y="214.1" width="1.8" height="1.8" fill="#0000ff"/>
<rect x="440.5" y="196.4" width="1.8" height="1.8" fill="#0000ff"/>
<rect x="322.2" y="267.9" width="1.8" height="1.8" fill="#0000ff"/>
<rect x="351.6" y="275" width="1.8" height="1.8" fill="#0000ff"/>
<rect x="381.1" y="287" width="1.8" height="1.8" fill="#0000ff"/>
<rect x="411.1" y="300.4" width="1.8" height="1.8" fill="#0000ff"/>
<rect x="439.9" y="318.6" width="1.8" height="1.8" fill="#0000ff"/>
<rect x="541.5" y="184.2" width="174.2" height="138.9" fill="none" stroke="#000" stroke-width="1.2"/>
<line x1="538.9" y1="312.8" x2="541.5" y2="312.8" stroke="#000" stroke-width="1.2" />
<text x="537.6" y="316.1" font-size="9.4" text-anchor="end" font-weight="bold" fill="#000" stroke="#000" stroke-width="0.3" >0</text>
<line x1="538.9" y1="292.9" x2="541.5" y2="292.9" stroke="#000" stroke-width="1.2" />
<text x="537.6" y="296.2" font-size="9.4" text-anchor="end" font-weight="bold" fill="#000" stroke="#000" stroke-width="0.3" >1</text>
<line x1="538.9" y1="273" x2="541.5" y2="273" stroke="#000" stroke-width="1.2" />
<text x="537.6" y="276.3" font-size="9.4" text-anchor="end" font-weight="bold" fill="#000" stroke="#000" stroke-width="0.3" >2</text>
<line x1="538.9" y1="253.1" x2="541.5" y2="253.1" stroke="#000" stroke-width="1.2" />
<text x="537.6" y="256.4" font-size="9.4" text-anchor="end" font-weight="bold" fill="#000" stroke="#000" stroke-width="0.3" >3</text>
<line x1="538.9" y1="233.2" x2="541.5" y2="233.2" stroke="#000" stroke-width="1.2" />
<text x="537.6" y="236.5" font-size="9.4" text-anchor="end" font-weight="bold" fill="#000" stroke="#000" stroke-width="0.3" >4</text>
<line x1="538.9" y1="213.3" x2="541.5" y2="213.3" stroke="#000" stroke-width="1.2" />
<text x="537.6" y="216.6" font-size="9.4" text-anchor="end" font-weight="bold" fill="#000" stroke="#000" stroke-width="0.3" >5</text>
<line x1="538.9" y1="193.4" x2="541.5" y2="193.4" stroke="#000" stroke-width="1.2" />
<text x="537.6" y="196.7" font-size="9.4" text-anchor="end" font-weight="bold" fill="#000" stroke="#000" stroke-width="0.3" >6</text>
<line x1="541.7" y1="323.1" x2="541.7" y2="325.7" stroke="#000" stroke-width="1.2" />
<text x="541.7" y="335.3" font-size="9.4" text-anchor="middle" font-weight="bold" fill="#000" stroke="#000" stroke-width="0.3" >3</text>
<line x1="566.5" y1="323.1" x2="566.5" y2="325.7" stroke="#000" stroke-width="1.2" />
<text x="566.5" y="335.3" font-size="9.4" text-anchor="middle" font-weight="bold" fill="#000" stroke="#000" stroke-width="0.3" >4</text>
<line x1="591.3" y1="323.1" x2="591.3" y2="325.7" stroke="#000" stroke-width="1.2" />
<text x="591.3" y="335.3" font-size="9.4" text-anchor="middle" font-weight="bold" fill="#000" stroke="#000" stroke-width="0.3" >5</text>
<line x1="616.1" y1="323.1" x2="616.1" y2="325.7" stroke="#000" stroke-width="1.2" />
<text x="616.1" y="335.3" font-size="9.4" text-anchor="middle" font-weight="bold" fill="#000" stroke="#000" stroke-width="0.3" >6</text>
<line x1="640.9" y1="323.1" x2="640.9" y2="325.7" stroke="#000" stroke-width="1.2" />
<text x="640.9" y="335.3" font-size="9.4" text-anchor="middle" font-weight="bold" fill="#000" stroke="#000" stroke-width="0.3" >7</text>
<line x1="665.7" y1="323.1" x2="665.7" y2="325.7" stroke="#000" stroke-width="1.2" />
<text x="665.7" y="335.3" font-size="9.4" text-anchor="middle" font-weight="bold" fill="#000" stroke="#000" stroke-width="0.3" >8</text>
<line x1="690.5" y1="323.1" x2="690.5" y2="325.7" stroke="#000" stroke-width="1.2" />
<text x="690.5" y="335.3" font-size="9.4" text-anchor="middle" font-weight="bold" fill="#000" stroke="#000" stroke-width="0.3" >9</text>
<line x1="715.3" y1="323.1" x2="715.3" y2="325.7" stroke="#000" stroke-width="1.2" />
<text x="715.3" y="335.3" font-size="9.4" text-anchor="middle" font-weight="bold" fill="#000" stroke="#000" stroke-width="0.3" >10</text>
<text x="635" y="345.5" font-size="11.8" text-anchor="middle" font-weight="bold" fill="#000" stroke="#000" stroke-width="0.3" >Z'(ohm)</text>
<text x="531.2" y="252" font-size="11.6" text-anchor="middle" font-weight="bold" fill="#000" stroke="#000" stroke-width="0.3" transform="rotate(-90 531.2 252)" >-Z''(ohm)</text>
<text x="514" y="194" font-size="19.8" text-anchor="start" font-weight="normal" fill="#000" >F</text>
<line x1="545.7" y1="191.5" x2="559.3" y2="191.5" stroke="#000000" stroke-width="1.3" />
<circle cx="552.5" cy="191.5" r="1.5" fill="#000000"/>
<text x="561.2" y="193.7" font-size="7.5" text-anchor="start" font-weight="bold" fill="#000" stroke="#000" stroke-width="0.3" ><tspan>Ni</tspan><tspan dy="2.3" font-size="5.4">1</tspan><tspan dy="-2.3">Co</tspan><tspan dy="2.3" font-size="5.4">1</tspan><tspan dy="-2.3">Fe</tspan><tspan dy="2.3" font-size="5.4">1</tspan></text>
<line x1="545.7" y1="203.7" x2="559.3" y2="203.7" stroke="#ff0000" stroke-width="1.3" />
<circle cx="552.5" cy="203.7" r="1.5" fill="#ff0000"/>
<text x="559.5" y="205.9" font-size="7.5" text-anchor="start" font-weight="bold" fill="#000" stroke="#000" stroke-width="0.3" ><tspan>Ni</tspan><tspan dy="2.3" font-size="5.4">1</tspan><tspan dy="-2.3">Fe</tspan><tspan dy="2.3" font-size="5.4">1</tspan></text>
<line x1="545.7" y1="215.9" x2="559.3" y2="215.9" stroke="#0000ff" stroke-width="1.3" />
<polygon points="550.85,217.25 554.15,217.25 552.5,214.25" fill="#0000ff"/>
<text x="561.2" y="218.1" font-size="7.5" text-anchor="start" font-weight="bold" fill="#000" stroke="#000" stroke-width="0.3" ><tspan>Ni</tspan><tspan dy="2.3" font-size="5.4">1</tspan><tspan dy="-2.3">Co</tspan><tspan dy="2.3" font-size="5.4">1</tspan></text>
<line x1="545.7" y1="228.1" x2="559.3" y2="228.1" stroke="#ff00ff" stroke-width="1.3" />
<polygon points="550.85,226.75 554.15,226.75 552.5,229.75" fill="#ff00ff"/>
<text x="561.2" y="230.3" font-size="7.5" text-anchor="start" font-weight="bold" fill="#000" stroke="#000" stroke-width="0.3" ><tspan>Co</tspan><tspan dy="2.3" font-size="5.4">1</tspan><tspan dy="-2.3">Fe</tspan><tspan dy="2.3" font-size="5.4">1</tspan></text>
<line x1="545.7" y1="240.3" x2="559.3" y2="240.3" stroke="#008000" stroke-width="1.3" />
<polygon points="552.5,238.5 554,240.3 552.5,242.1 551,240.3" fill="#008000"/>
<text x="561.2" y="242.5" font-size="7.5" text-anchor="start" font-weight="bold" fill="#000" stroke="#000" stroke-width="0.3" ><tspan>RuO</tspan><tspan dy="2.3" font-size="5.4">2</tspan></text>
<polyline points="564.5,312.3 565.38,312.07 566.52,311.77 567.89,311.41 569.41,311.01 571.04,310.58 572.73,310.13 574.43,309.69 576.07,309.26 577.61,308.86 579,308.5 580.26,308.17 581.46,307.85 582.61,307.53 583.73,307.22 584.83,306.93 585.9,306.64 586.98,306.38 588.07,306.13 589.17,305.9 590.3,305.7 591.46,305.52 592.64,305.37 593.83,305.24 595.03,305.13 596.23,305.04 597.42,304.96 598.6,304.88 599.76,304.82 600.9,304.76 602,304.7 603.06,304.64 604.08,304.59 605.06,304.55 606.03,304.51 606.98,304.49 607.94,304.47 608.91,304.46 609.9,304.46 610.93,304.48 612,304.5 613.12,304.54 614.28,304.59 615.47,304.66 616.68,304.74 617.9,304.83 619.13,304.92 620.37,305.02 621.59,305.12 622.81,305.21 624,305.3 625.2,305.39 626.42,305.5 627.66,305.62 628.9,305.73 630.12,305.85 631.32,305.96 632.49,306.05 633.59,306.13 634.64,306.18 635.6,306.2 636.47,306.21 637.27,306.22 637.99,306.22 638.66,306.21 639.29,306.17 639.9,306.11 640.5,306.01 641.11,305.86 641.74,305.66 642.4,305.4 643.09,305.09 643.79,304.75 644.49,304.38 645.19,303.97 645.89,303.51 646.59,302.99 647.29,302.42 647.97,301.79 648.64,301.08 649.3,300.3 649.94,299.43 650.57,298.48 651.19,297.44 651.8,296.35 652.4,295.19 653,294 653.6,292.77 654.19,291.52 654.79,290.26 655.4,289 656.01,287.72 656.61,286.4 657.2,285.05 657.8,283.66 658.4,282.26 659,280.85 659.61,279.43 660.23,278.01 660.86,276.6 661.5,275.2 662.16,273.8 662.84,272.38 663.54,270.96 664.24,269.52 664.95,268.09 665.66,266.68 666.36,265.28 667.06,263.92 667.74,262.59 668.4,261.3 669.04,260.06 669.68,258.87 670.3,257.72 670.91,256.59 671.52,255.48 672.12,254.39 672.72,253.3 673.31,252.21 673.91,251.11 674.5,250 675.09,248.89 675.66,247.8 676.22,246.72 676.77,245.64 677.33,244.56 677.89,243.47 678.47,242.36 679.06,241.21 679.66,240.03 680.3,238.8 680.96,237.54 681.65,236.25 682.35,234.94 683.07,233.6 683.81,232.24 684.55,230.84 685.29,229.41 686.03,227.95 686.77,226.44 687.5,224.9 688.26,223.22 689.07,221.37 689.91,219.39 690.76,217.36 691.6,215.33 692.4,213.38 693.14,211.55 693.81,209.92 694.37,208.55 694.8,207.5" fill="none" stroke="#008000" stroke-width="1.7" stroke-linejoin="round" stroke-linecap="round" />
<polygon points="694.8,205.22 696.7,207.5 694.8,209.78 692.9,207.5" fill="#008000"/>
<polygon points="687.44,222.74 689.34,225.02 687.44,227.3 685.54,225.02" fill="#008000"/>
<polygon points="679.97,237.15 681.87,239.43 679.97,241.71 678.07,239.43" fill="#008000"/>
<polygon points="673.56,249.46 675.46,251.74 673.56,254.02 671.66,251.74" fill="#008000"/>
<polygon points="667.94,259.91 669.84,262.19 667.94,264.47 666.04,262.19" fill="#008000"/>
<polygon points="663.39,268.97 665.29,271.25 663.39,273.53 661.49,271.25" fill="#008000"/>
<polygon points="659.75,276.83 661.65,279.11 659.75,281.39 657.85,279.11" fill="#008000"/>
<polygon points="656.82,283.64 658.72,285.92 656.82,288.2 654.92,285.92" fill="#008000"/>
<polygon points="654.13,289.37 656.03,291.65 654.13,293.93 652.23,291.65" fill="#008000"/>
<polygon points="651.72,294.21 653.62,296.49 651.72,298.77 649.82,296.49" fill="#008000"/>
<polygon points="649.23,298.1 651.13,300.38 649.23,302.66 647.33,300.38" fill="#008000"/>
<polygon points="646.41,300.85 648.31,303.13 646.41,305.41 644.51,303.13" fill="#008000"/>
<polygon points="643.52,302.6 645.42,304.88 643.52,307.16 641.62,304.88" fill="#008000"/>
<polygon points="640.84,303.65 642.74,305.93 640.84,308.21 638.94,305.93" fill="#008000"/>
<polygon points="638.26,303.94 640.16,306.22 638.26,308.5 636.36,306.22" fill="#008000"/>
<polygon points="635.66,303.92 637.56,306.2 635.66,308.48 633.76,306.2" fill="#008000"/>
<polygon points="633.06,303.81 634.96,306.09 633.06,308.37 631.16,306.09" fill="#008000"/>
<polygon points="630.47,303.6 632.37,305.88 630.47,308.16 628.57,305.88" fill="#008000"/>
<polygon points="627.88,303.36 629.78,305.64 627.88,307.92 625.98,305.64" fill="#008000"/>
<polygon points="625.3,303.12 627.2,305.4 625.3,307.68 623.4,305.4" fill="#008000"/>
<polygon points="622.7,302.92 624.6,305.2 622.7,307.48 620.8,305.2" fill="#008000"/>
<polygon points="620.11,302.72 622.01,305 620.11,307.28 618.21,305" fill="#008000"/>
<polygon points="617.52,302.52 619.42,304.8 617.52,307.08 615.62,304.8" fill="#008000"/>
<polygon points="614.92,302.35 616.82,304.63 614.92,306.91 613.02,304.63" fill="#008000"/>
<polygon points="612.33,302.23 614.23,304.51 612.33,306.79 610.43,304.51" fill="#008000"/>
<polygon points="609.73,302.18 611.63,304.46 609.73,306.74 607.83,304.46" fill="#008000"/>
<polygon points="607.13,302.2 609.03,304.48 607.13,306.76 605.23,304.48" fill="#008000"/>
<polygon points="604.53,302.29 606.43,304.57 604.53,306.85 602.63,304.57" fill="#008000"/>
<polygon points="601.93,302.42 603.83,304.7 601.93,306.98 600.03,304.7" fill="#008000"/>
<polygon points="599.34,302.56 601.24,304.84 599.34,307.12 597.44,304.84" fill="#008000"/>
<polygon points="596.74,302.72 598.64,305 596.74,307.28 594.84,305" fill="#008000"/>
<polygon points="594.15,302.93 596.05,305.21 594.15,307.49 592.25,305.21" fill="#008000"/>
<polygon points="591.57,303.23 593.47,305.51 591.57,307.79 589.67,305.51" fill="#008000"/>
<polygon points="589,303.66 590.9,305.94 589,308.22 587.1,305.94" fill="#008000"/>
<polygon points="586.47,304.22 588.37,306.5 586.47,308.78 584.57,306.5" fill="#008000"/>
<polygon points="583.95,304.88 585.85,307.16 583.95,309.44 582.05,307.16" fill="#008000"/>
<polygon points="581.44,305.57 583.34,307.85 581.44,310.13 579.54,307.85" fill="#008000"/>
<polygon points="578.93,306.24 580.83,308.52 578.93,310.8 577.03,308.52" fill="#008000"/>
<polygon points="576.41,306.89 578.31,309.17 576.41,311.45 574.51,309.17" fill="#008000"/>
<polygon points="573.9,307.55 575.8,309.83 573.9,312.11 572,309.83" fill="#008000"/>
<polygon points="571.38,308.21 573.28,310.49 571.38,312.77 569.48,310.49" fill="#008000"/>
<polygon points="568.87,308.87 570.77,311.15 568.87,313.43 566.97,311.15" fill="#008000"/>
<polygon points="566.35,309.53 568.25,311.81 566.35,314.09 564.45,311.81" fill="#008000"/>
<polyline points="565.8,311 566.59,310.71 567.63,310.32 568.85,309.87 570.22,309.36 571.69,308.81 573.22,308.25 574.76,307.69 576.27,307.15 577.7,306.64 579,306.2 580.21,305.79 581.38,305.4 582.52,305.02 583.64,304.65 584.74,304.29 585.84,303.96 586.94,303.64 588.04,303.34 589.16,303.06 590.3,302.8 591.46,302.57 592.64,302.36 593.83,302.18 595.03,302.02 596.23,301.87 597.42,301.74 598.6,301.62 599.76,301.51 600.9,301.4 602,301.3 603.06,301.21 604.06,301.12 605.03,301.05 605.98,300.98 606.92,300.93 607.87,300.89 608.83,300.85 609.84,300.83 610.89,300.81 612,300.8 613.2,300.81 614.48,300.84 615.81,300.88 617.19,300.94 618.58,301 619.97,301.06 621.32,301.12 622.63,301.16 623.86,301.19 625,301.2 626.06,301.2 627.07,301.21 628.04,301.22 628.96,301.22 629.84,301.21 630.68,301.18 631.48,301.12 632.25,301.03 632.99,300.89 633.7,300.7 634.36,300.48 634.96,300.26 635.52,300.01 636.03,299.73 636.52,299.42 636.99,299.05 637.45,298.63 637.92,298.14 638.4,297.56 638.9,296.9 639.41,296.15 639.91,295.33 640.41,294.43 640.9,293.47 641.39,292.44 641.9,291.36 642.42,290.22 642.95,289.02 643.51,287.78 644.1,286.5 644.73,285.15 645.39,283.7 646.09,282.18 646.8,280.61 647.53,278.99 648.26,277.34 648.98,275.68 649.68,274.03 650.36,272.4 651,270.8 651.61,269.23 652.19,267.68 652.76,266.13 653.32,264.59 653.86,263.04 654.39,261.48 654.92,259.9 655.44,258.3 655.97,256.67 656.5,255 657.03,253.29 657.56,251.52 658.08,249.72 658.6,247.89 659.11,246.04 659.63,244.2 660.14,242.37 660.66,240.57 661.18,238.81 661.7,237.1 662.23,235.45 662.75,233.86 663.28,232.32 663.8,230.8 664.33,229.29 664.86,227.78 665.39,226.25 665.93,224.68 666.46,223.07 667,221.4 667.57,219.58 668.18,217.58 668.81,215.47 669.45,213.31 670.08,211.17 670.69,209.1 671.25,207.18 671.75,205.46 672.17,204.01 672.5,202.9" fill="none" stroke="#ff00ff" stroke-width="1.7" stroke-linejoin="round" stroke-linecap="round" />
<polygon points="670.41,201.19 674.59,201.19 672.5,204.99" fill="#ff00ff"/>
<polygon points="665,219.4 669.18,219.4 667.09,223.2" fill="#ff00ff"/>
<polygon points="659.8,234.79 663.98,234.79 661.89,238.59" fill="#ff00ff"/>
<polygon points="655.95,248.12 660.13,248.12 658.04,251.92" fill="#ff00ff"/>
<polygon points="652.41,259.44 656.59,259.44 654.5,263.24" fill="#ff00ff"/>
<polygon points="648.96,268.97 653.14,268.97 651.05,272.77" fill="#ff00ff"/>
<polygon points="645.58,276.96 649.76,276.96 647.67,280.76" fill="#ff00ff"/>
<polygon points="642.52,283.7 646.7,283.7 644.61,287.5" fill="#ff00ff"/>
<polygon points="639.89,289.46 644.07,289.46 641.98,293.26" fill="#ff00ff"/>
<polygon points="637.43,294.27 641.61,294.27 639.52,298.07" fill="#ff00ff"/>
<polygon points="634.4,297.73 638.58,297.73 636.49,301.53" fill="#ff00ff"/>
<polygon points="630.76,299.2 634.94,299.2 632.85,303" fill="#ff00ff"/>
<polygon points="627.4,299.51 631.58,299.51 629.49,303.31" fill="#ff00ff"/>
<polygon points="624.51,299.5 628.69,299.5 626.6,303.3" fill="#ff00ff"/>
<polygon points="621.91,299.48 626.09,299.48 624,303.28" fill="#ff00ff"/>
<polygon points="619.31,299.41 623.49,299.41 621.4,303.21" fill="#ff00ff"/>
<polygon points="616.71,299.3 620.89,299.3 618.8,303.1" fill="#ff00ff"/>
<polygon points="614.12,299.19 618.3,299.19 616.21,302.99" fill="#ff00ff"/>
<polygon points="611.52,299.11 615.7,299.11 613.61,302.91" fill="#ff00ff"/>
<polygon points="608.92,299.1 613.1,299.1 611.01,302.9" fill="#ff00ff"/>
<polygon points="606.32,299.16 610.5,299.16 608.41,302.96" fill="#ff00ff"/>
<polygon points="603.72,299.29 607.9,299.29 605.81,303.09" fill="#ff00ff"/>
<polygon points="601.13,299.48 605.31,299.48 603.22,303.28" fill="#ff00ff"/>
<polygon points="598.54,299.72 602.72,299.72 600.63,303.52" fill="#ff00ff"/>
<polygon points="595.95,299.96 600.13,299.96 598.04,303.76" fill="#ff00ff"/>
<polygon points="593.37,300.25 597.55,300.25 595.46,304.05" fill="#ff00ff"/>
<polygon points="590.79,300.62 594.97,300.62 592.88,304.42" fill="#ff00ff"/>
<polygon points="588.24,301.08 592.42,301.08 590.33,304.88" fill="#ff00ff"/>
<polygon points="585.71,301.69 589.89,301.69 587.8,305.49" fill="#ff00ff"/>
<polygon points="583.21,302.41 587.39,302.41 585.3,306.21" fill="#ff00ff"/>
<polygon points="580.73,303.21 584.91,303.21 582.82,307.01" fill="#ff00ff"/>
<polygon points="578.27,304.03 582.45,304.03 580.36,307.83" fill="#ff00ff"/>
<polygon points="575.81,304.87 579.99,304.87 577.9,308.67" fill="#ff00ff"/>
<polygon points="573.35,305.73 577.53,305.73 575.44,309.53" fill="#ff00ff"/>
<polygon points="570.91,306.62 575.09,306.62 573,310.42" fill="#ff00ff"/>
<polygon points="568.47,307.52 572.65,307.52 570.56,311.32" fill="#ff00ff"/>
<polygon points="566.04,308.43 570.22,308.43 568.13,312.23" fill="#ff00ff"/>
<polyline points="565.8,307.5 566.47,307.34 567.34,307.15 568.36,306.93 569.51,306.67 570.74,306.39 572.04,306.09 573.35,305.77 574.66,305.43 575.92,305.07 577.1,304.7 578.23,304.34 579.34,303.99 580.46,303.64 581.57,303.27 582.69,302.88 583.81,302.45 584.94,301.95 586.08,301.39 587.23,300.75 588.4,300 589.6,299.14 590.84,298.18 592.1,297.12 593.37,296 594.65,294.82 595.92,293.6 597.17,292.36 598.39,291.12 599.57,289.9 600.7,288.7 601.78,287.54 602.84,286.39 603.86,285.24 604.85,284.09 605.83,282.92 606.77,281.73 607.7,280.5 608.62,279.23 609.51,277.9 610.4,276.5 611.26,275.05 612.1,273.55 612.91,272.01 613.7,270.44 614.48,268.81 615.24,267.14 616,265.43 616.76,263.67 617.53,261.86 618.3,260 619.09,258.04 619.9,255.94 620.72,253.75 621.54,251.5 622.36,249.23 623.15,246.97 623.92,244.76 624.66,242.64 625.36,240.64 626,238.8 626.59,237.13 627.12,235.62 627.6,234.21 628.06,232.9 628.49,231.63 628.9,230.39 629.31,229.13 629.72,227.84 630.15,226.47 630.6,225 631.09,223.36 631.61,221.55 632.15,219.63 632.7,217.65 633.24,215.69 633.75,213.79 634.23,212.03 634.66,210.45 635.02,209.12 635.3,208.1" fill="none" stroke="#0000ff" stroke-width="1.7" stroke-linejoin="round" stroke-linecap="round" />
<polygon points="633.21,209.81 637.39,209.81 635.3,206.01" fill="#0000ff"/>
<polygon points="628.08,228.1 632.26,228.1 630.17,224.3" fill="#0000ff"/>
<polygon points="622.87,243.48 627.05,243.48 624.96,239.68" fill="#0000ff"/>
<polygon points="618.22,256.56 622.4,256.56 620.31,252.76" fill="#0000ff"/>
<polygon points="613.73,267.54 617.91,267.54 615.82,263.74" fill="#0000ff"/>
<polygon points="609.25,276.63 613.43,276.63 611.34,272.83" fill="#0000ff"/>
<polygon points="604.4,283.8 608.58,283.8 606.49,280" fill="#0000ff"/>
<polygon points="599.55,289.4 603.73,289.4 601.64,285.6" fill="#0000ff"/>
<polygon points="595.18,293.97 599.36,293.97 597.27,290.17" fill="#0000ff"/>
<polygon points="591.27,297.72 595.45,297.72 593.36,293.92" fill="#0000ff"/>
<polygon points="587.73,300.68 591.91,300.68 589.82,296.88" fill="#0000ff"/>
<polygon points="584.43,302.86 588.61,302.86 586.52,299.06" fill="#0000ff"/>
<polygon points="581.37,304.29 585.55,304.29 583.46,300.49" fill="#0000ff"/>
<polygon points="578.65,305.26 582.83,305.26 580.74,301.46" fill="#0000ff"/>
<polygon points="576.17,306.04 580.35,306.04 578.26,302.24" fill="#0000ff"/>
<polygon points="573.69,306.82 577.87,306.82 575.78,303.02" fill="#0000ff"/>
<polygon points="571.18,307.5 575.36,307.5 573.27,303.7" fill="#0000ff"/>
<polygon points="568.65,308.1 572.83,308.1 570.74,304.3" fill="#0000ff"/>
<polygon points="566.12,308.67 570.3,308.67 568.21,304.87" fill="#0000ff"/>
<polyline points="569.5,309 570.28,307.28 571.28,305.08 572.46,302.48 573.79,299.56 575.23,296.4 576.72,293.09 578.25,289.72 579.76,286.35 581.23,283.09 582.6,280 583.96,276.94 585.39,273.74 586.86,270.45 588.34,267.12 589.8,263.82 591.21,260.6 592.55,257.51 593.78,254.61 594.87,251.96 595.8,249.6 596.54,247.59 597.11,245.88 597.54,244.43 597.87,243.17 598.12,242.04 598.32,240.97 598.51,239.92 598.72,238.81 598.97,237.59 599.3,236.2 599.69,234.69 600.08,233.14 600.49,231.57 600.9,229.96 601.31,228.32 601.73,226.65 602.15,224.95 602.57,223.2 602.99,221.42 603.4,219.6 603.83,217.63 604.29,215.47 604.76,213.17 605.24,210.81 605.71,208.46 606.16,206.2 606.57,204.09 606.94,202.2 607.26,200.62 607.5,199.4" fill="none" stroke="#ff0000" stroke-width="1.7" stroke-linejoin="round" stroke-linecap="round" />
<circle cx="607.5" cy="199.4" r="1.9" fill="#ff0000"/>
<circle cx="603.74" cy="218.02" r="1.9" fill="#ff0000"/>
<circle cx="599.91" cy="233.8" r="1.9" fill="#ff0000"/>
<circle cx="596.64" cy="247.28" r="1.9" fill="#ff0000"/>
<circle cx="592.22" cy="258.28" r="1.9" fill="#ff0000"/>
<circle cx="588.14" cy="267.57" r="1.9" fill="#ff0000"/>
<circle cx="584.61" cy="275.48" r="1.9" fill="#ff0000"/>
<circle cx="581.6" cy="282.25" r="1.9" fill="#ff0000"/>
<circle cx="579.01" cy="288.03" r="1.9" fill="#ff0000"/>
<circle cx="576.78" cy="292.96" r="1.9" fill="#ff0000"/>
<circle cx="574.88" cy="297.17" r="1.9" fill="#ff0000"/>
<circle cx="573.24" cy="300.77" r="1.9" fill="#ff0000"/>
<circle cx="571.84" cy="303.84" r="1.9" fill="#ff0000"/>
<circle cx="570.65" cy="306.47" r="1.9" fill="#ff0000"/>
<circle cx="569.57" cy="308.84" r="1.9" fill="#ff0000"/>
<polyline points="567.5,308.5 568.15,306.81 568.98,304.65 569.96,302.09 571.07,299.22 572.26,296.12 573.5,292.88 574.77,289.56 576.03,286.25 577.25,283.04 578.4,280 579.54,276.99 580.73,273.83 581.95,270.59 583.18,267.32 584.4,264.07 585.58,260.89 586.71,257.84 587.75,254.97 588.69,252.34 589.5,250 590.17,247.98 590.72,246.26 591.18,244.77 591.55,243.46 591.86,242.28 592.13,241.18 592.37,240.09 592.62,238.97 592.89,237.76 593.2,236.4 593.53,234.96 593.84,233.51 594.14,232.06 594.43,230.6 594.71,229.11 595,227.6 595.29,226.04 595.58,224.45 595.88,222.8 596.2,221.1 596.55,219.24 596.92,217.17 597.32,214.97 597.73,212.7 598.14,210.44 598.53,208.26 598.89,206.22 599.22,204.4 599.49,202.87 599.7,201.7" fill="none" stroke="#000000" stroke-width="1.7" stroke-linejoin="round" stroke-linecap="round" />
<circle cx="599.7" cy="201.7" r="1.9" fill="#000000"/>
<circle cx="596.33" cy="220.4" r="1.9" fill="#000000"/>
<circle cx="593.21" cy="236.34" r="1.9" fill="#000000"/>
<circle cx="589.59" cy="249.72" r="1.9" fill="#000000"/>
<circle cx="585.58" cy="260.89" r="1.9" fill="#000000"/>
<circle cx="582.03" cy="270.38" r="1.9" fill="#000000"/>
<circle cx="578.97" cy="278.49" r="1.9" fill="#000000"/>
<circle cx="576.35" cy="285.42" r="1.9" fill="#000000"/>
<circle cx="574.09" cy="291.33" r="1.9" fill="#000000"/>
<circle cx="572.16" cy="296.39" r="1.9" fill="#000000"/>
<circle cx="570.5" cy="300.7" r="1.9" fill="#000000"/>
<circle cx="569.08" cy="304.39" r="1.9" fill="#000000"/>
<circle cx="567.87" cy="307.55" r="1.9" fill="#000000"/>
</svg></body></html>
